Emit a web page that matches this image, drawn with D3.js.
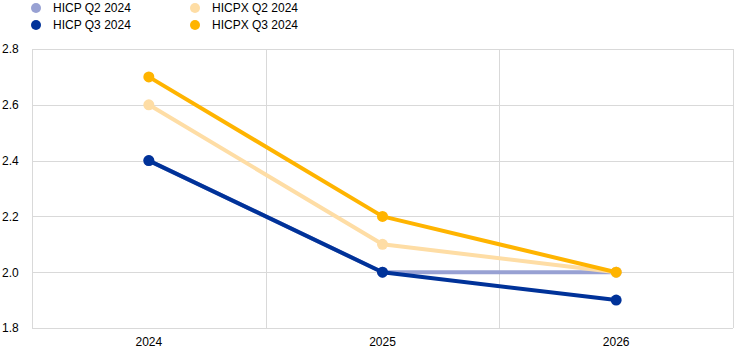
<!DOCTYPE html>
<html><head><meta charset="utf-8">
<script src="https://cdn.jsdelivr.net/npm/d3@7"></script>
<style>body{margin:0;background:#fff;}svg{display:block;font-family:"Liberation Sans",Arial,sans-serif;}</style>
</head><body>
<svg id="c" width="744" height="355"></svg>
<script>
const categories = ["2024", "2025", "2026"];
const seriesNames = ["HICP Q2 2024", "HICP Q3 2024", "HICPX Q2 2024", "HICPX Q3 2024"];
const hicpQ2 = [2.4, 2.0, 2.0];
const hicpQ3 = [2.4, 2.0, 1.9];
const hicpxQ2 = [2.6, 2.1, 2.0];
const hicpxQ3 = [2.7, 2.2, 2.0];
const yTicks = [1.8, 2.0, 2.2, 2.4, 2.6, 2.8];
const colors = ["#98a1d3", "#003299", "#fedda5", "#ffb400"];

const series = [hicpQ2, hicpQ3, hicpxQ2, hicpxQ3].map((v, i) => ({name: seriesNames[i], values: v, color: colors[i]}));

const svg = d3.select("#c");
const m = {l: 32, r: 11, t: 49, b: 27};
const W = 744, H = 355;
const x = d3.scaleBand().domain(categories).range([m.l, W - m.r]);
const y = d3.scaleLinear().domain([1.8, 2.8]).range([H - m.b, m.t]);

const g = svg.append("g");
// horizontal gridlines
g.selectAll(".hg").data(yTicks).join("line")
  .attr("x1", m.l).attr("x2", W - m.r)
  .attr("y1", d => Math.round(y(d)) + 0.5).attr("y2", d => Math.round(y(d)) + 0.5)
  .attr("stroke", "#d9d9d9").attr("stroke-width", 1);
// vertical gridlines at band edges
const edges = categories.map(c => x(c)).concat([x.range()[1]]);
g.selectAll(".vg").data(edges).join("line")
  .attr("x1", d => Math.round(d) + 0.5).attr("x2", d => Math.round(d) + 0.5)
  .attr("y1", m.t).attr("y2", H - m.b)
  .attr("stroke", "#d9d9d9").attr("stroke-width", 1);

// y labels
const yAxis = d3.axisLeft(y).tickValues(yTicks).tickFormat(d3.format(".1f")).tickSize(0).tickPadding(0);
const ya = svg.append("g").attr("transform", `translate(2,0)`).call(yAxis);
ya.select(".domain").remove();
ya.selectAll("text").attr("text-anchor", "start").attr("x", 0).attr("font-size", 12).attr("fill", "#000")
  .attr("font-family", "Liberation Sans, Arial, sans-serif");

// x labels
const xAxis = d3.axisBottom(x).tickSize(0).tickPadding(9);
const xa = svg.append("g").attr("transform", `translate(0,${H - m.b})`).call(xAxis);
xa.select(".domain").remove();
xa.selectAll("text").attr("font-size", 12).attr("fill", "#000").attr("font-family", "Liberation Sans, Arial, sans-serif");

const cx = c => x(c) + x.bandwidth() / 2;
const line = d3.line().x((d, i) => cx(categories[i])).y(d => y(d));

series.forEach(s => {
  const sg = svg.append("g");
  sg.append("path").attr("d", line(s.values)).attr("fill", "none")
    .attr("stroke", s.color).attr("stroke-width", 4).attr("stroke-linejoin", "round");
  sg.selectAll("circle").data(s.values).join("circle")
    .attr("cx", (d, i) => cx(categories[i])).attr("cy", d => y(d)).attr("r", 5.5).attr("fill", s.color);
});

// legend
const legPos = [[36, 8], [36, 25], [195, 8], [195, 25]];
series.forEach((s, i) => {
  const [lx, ly] = legPos[i];
  svg.append("circle").attr("cx", lx).attr("cy", ly).attr("r", 5).attr("fill", s.color);
  svg.append("text").attr("x", lx + 17).attr("y", ly).attr("dy", "0.35em")
    .attr("font-size", 12).attr("fill", "#000").text(s.name);
});
</script>
</body></html>
